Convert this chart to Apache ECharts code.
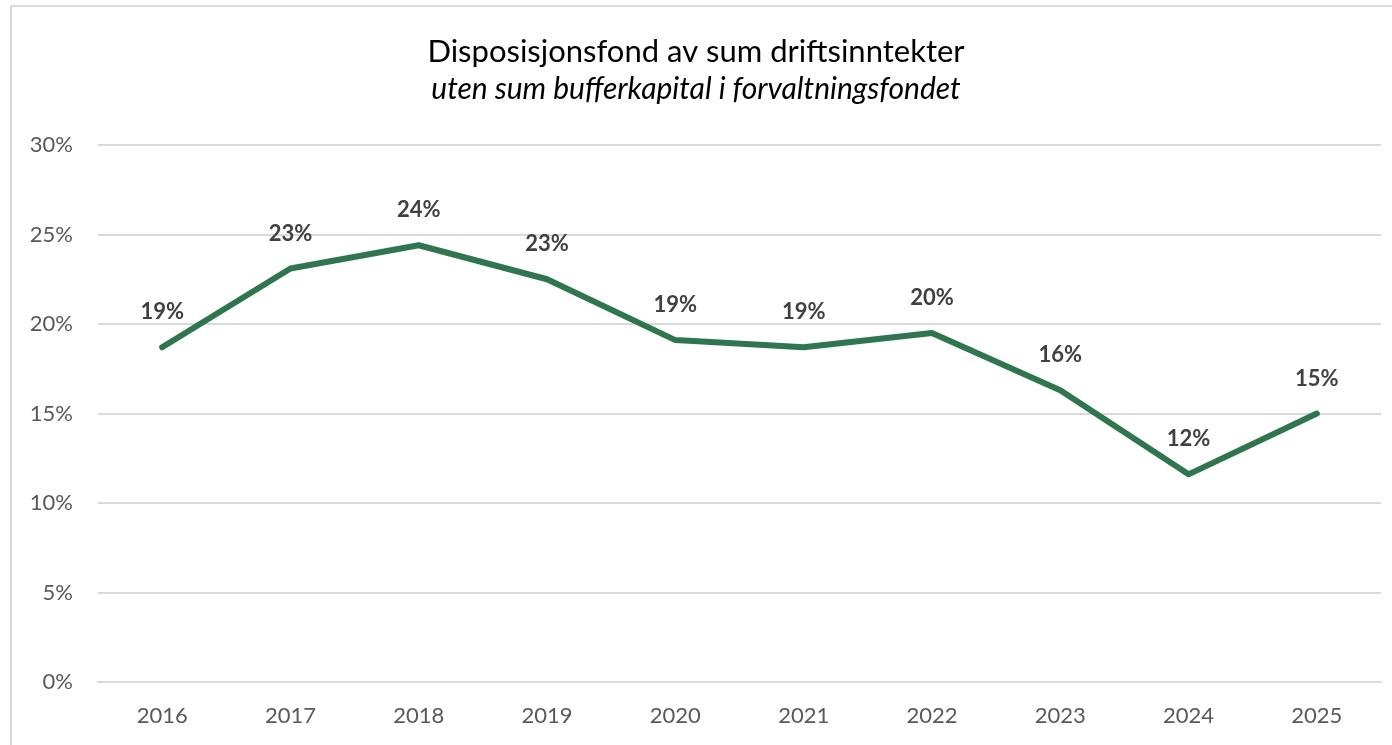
<!DOCTYPE html>
<html>
<head>
<meta charset="utf-8">
<title>Disposisjonsfond av sum driftsinntekter</title>
<script src="https://cdn.jsdelivr.net/npm/echarts@6/dist/echarts.min.js"></script>
<style>
  html, body { margin: 0; padding: 0; background: #fff; }
  #main { width: 1392px; height: 745px; }
</style>
</head>
<body>
<div id="main"></div>
<script>
// år og andel (%) lest av figuren
var years = ['2016', '2017', '2018', '2019', '2020', '2021', '2022', '2023', '2024', '2025'];
var andel = [18.7, 23.1, 24.4, 22.5, 19.1, 18.7, 19.5, 16.3, 11.6, 15.0];
var yTicks = [0, 5, 10, 15, 20, 25, 30];

var font = 'Lato, "Open Sans", sans-serif';
var myChart = echarts.init(document.getElementById('main'));

myChart.setOption({
    backgroundColor: '#fff',
    animation: false,
    // ramme rundt diagrammet
    graphic: [{
        type: 'rect',
        shape: { x: 11, y: 6, width: 1500, height: 900 },
        style: { fill: 'none', stroke: '#d9d9d9', lineWidth: 2 },
        silent: true
    }],
    title: {
        text: 'Disposisjonsfond av sum driftsinntekter',
        subtext: 'uten sum bufferkapital i forvaltningsfondet',
        left: 'center',
        top: 31,
        itemGap: 7,
        textStyle: { fontFamily: font, fontSize: 31, fontWeight: 'normal', color: '#000' },
        subtextStyle: { fontFamily: font, fontSize: 30, fontStyle: 'italic', color: '#000' }
    },
    grid: { left: 98, right: 11, top: 145, bottom: 63 },
    xAxis: {
        type: 'category',
        data: years,
        boundaryGap: true,
        axisLine: { show: true, lineStyle: { color: '#d9d9d9', width: 2 } },
        axisTick: { show: false },
        axisLabel: { margin: 23, fontFamily: font, fontSize: 22, color: '#595959' }
    },
    yAxis: {
        type: 'value',
        min: yTicks[0],
        max: yTicks[yTicks.length - 1],
        interval: 5,
        axisLine: { show: false },
        axisTick: { show: false },
        splitLine: { lineStyle: { color: '#d9d9d9', width: 2 } },
        axisLabel: {
            margin: 25, fontFamily: font, fontSize: 22, color: '#595959',
            formatter: function (v) { return v + '%'; }
        }
    },
    series: [{
        type: 'line',
        data: andel,
        symbol: 'circle',
        symbolSize: 0.1,
        showSymbol: true,
        lineStyle: { color: '#2f7650', width: 6, cap: 'round', join: 'round' },
        itemStyle: { color: '#2f7650' },
        label: {
            show: true,
            position: 'top',
            distance: 24,
            fontFamily: font,
            fontSize: 22,
            fontWeight: 'bold',
            color: '#404040',
            formatter: function (p) { return Math.round(p.value) + '%'; }
        }
    }]
});
</script>
</body>
</html>
